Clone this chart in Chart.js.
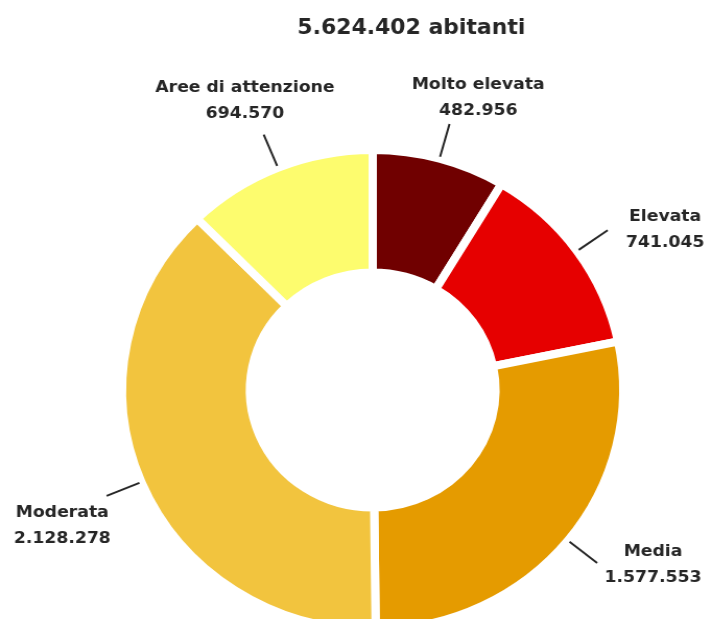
<!DOCTYPE html>
<html>
<head>
<meta charset="utf-8">
<script src="https://cdn.jsdelivr.net/npm/chart.js@4"></script>
<style>
  html, body { margin: 0; padding: 0; background: #fff; overflow: hidden; }
  /* il grafico originale è leggermente allargato in orizzontale */
  #wrap { position: absolute; left: 0; top: 0; width: 680px; height: 660px;
          transform: scaleX(1.044); transform-origin: 0 0; }
</style>
</head>
<body>
<div id="wrap"><canvas id="grafico" width="680" height="660"></canvas></div>
<script>
// dati del grafico
const categorie = ['Molto elevata', 'Elevata', 'Media', 'Moderata', 'Aree di attenzione'];
const abitanti = [482956, 741045, 1577553, 2128278, 694570];
const etichetteValori = ['482.956', '741.045', '1.577.553', '2.128.278', '694.570'];
const titolo = '5.624.402 abitanti';

const colori = ['#700000', '#e60000', '#e59b00', '#f2c43e', '#fdfc6e'];
// spostamento del testo rispetto alla fine della linea guida
const spostamentiEtichette = [[27.5, -26], [55, -1], [53.5, 1.5], [-42.5, 30], [-18, -34]];

const pluginEtichette = {
    id: 'etichette',
    afterDraw(chart) {
        const ctx = chart.ctx;
        const archi = chart.getDatasetMeta(0).data;
        ctx.save();
        ctx.fillStyle = '#262626';
        ctx.textAlign = 'center';
        ctx.textBaseline = 'middle';

        // titolo
        ctx.font = 'bold 21px "DejaVu Sans"';
        ctx.fillText(titolo, 394, 29);

        archi.forEach((arco, i) => {
            const p = arco.getProps(['x', 'y', 'startAngle', 'endAngle', 'outerRadius']);
            const medio = (p.startAngle + p.endAngle) / 2;
            const dx = Math.cos(medio), dy = Math.sin(medio);
            const r1 = p.outerRadius + 2, r2 = p.outerRadius + 36;
            const x2 = p.x + dx * r2, y2 = p.y + dy * r2;

            ctx.strokeStyle = '#262626';
            ctx.lineWidth = 2;
            ctx.beginPath();
            ctx.moveTo(p.x + dx * r1, p.y + dy * r1);
            ctx.lineTo(x2, y2);
            ctx.stroke();

            const cx = x2 + spostamentiEtichette[i][0];
            const cy = y2 + spostamentiEtichette[i][1];
            ctx.font = 'bold 16.5px "DejaVu Sans"';
            ctx.fillText(categorie[i], cx, cy - 13);
            ctx.fillText(etichetteValori[i], cx, cy + 13);
        });
        ctx.restore();
    }
};

new Chart(document.getElementById('grafico'), {
    type: 'doughnut',
    data: {
        labels: categorie,
        datasets: [{
            data: abitanti,
            backgroundColor: colori,
            borderColor: '#ffffff',
            borderWidth: 8,
            borderAlign: 'center'
        }]
    },
    options: {
        responsive: false,
        animation: false,
        cutout: '49%',
        layout: { padding: { top: 146, bottom: 26, left: 34, right: 0 } },
        plugins: {
            legend: { display: false },
            tooltip: { enabled: false }
        }
    },
    plugins: [pluginEtichette]
});
</script>
</body>
</html>
